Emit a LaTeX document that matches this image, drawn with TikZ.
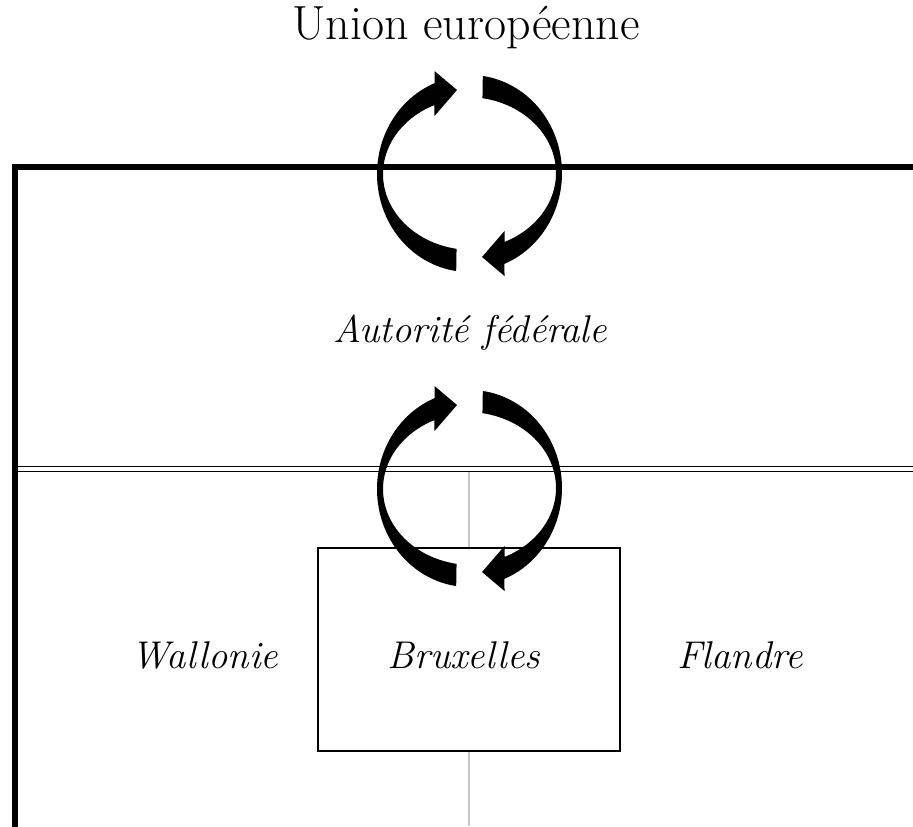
\documentclass[tikz,border=0pt]{standalone}
\usepackage{fontspec}
\begin{document}
\begin{tikzpicture}[x=0.75pt,y=-0.75pt,
  frameline/.style={line width=4.5pt,line join=miter},
  thinline/.style={line width=1pt},
  grayline/.style={draw=black!22,line width=1.1pt},
  boxstyle/.style={draw=black,line width=1.5pt,fill=white},
  bigtext/.style={anchor=base,inner sep=0pt,font=\fontsize{36}{42}\selectfont},
  itext/.style={anchor=base,inner sep=0pt,font=\fontsize{29}{35}\selectfont\itshape}]
\newcommand\halfcirc{%
  \fill plot[domain=98:248,samples=60] ({-0.5+92*cos(\x)},{0.5+98*sin(\x)})
    -- (-35,-102.5) -- (-12.5,-83.5) -- (-35,-57.5)
    -- plot[domain=245:100,samples=60] ({2.5+89*cos(\x)},{0.5+76*sin(\x)}) -- cycle;}
\useasboundingbox (0,0) rectangle (913,826);
% gray divider and Brussels box
\draw[grayline] (469,472) -- (469,826);
\node[boxstyle,minimum width=302*0.75pt,minimum height=203*0.75pt,inner sep=0pt] (box) at (469,649.5) {};
% frame
\draw[frameline] (14.5,830) -- (14.5,166.5) -- (913,166.5);
\draw[thinline] (17,466.8) -- (913,466.8);
\draw[thinline] (17,471.3) -- (913,471.3);
% circular arrows
\begin{scope}[shift={(469.5,173.5)}]
  \halfcirc
  \begin{scope}[rotate=180]\halfcirc\end{scope}
\end{scope}
\begin{scope}[shift={(469.5,488.5)}]
  \halfcirc
  \begin{scope}[rotate=180]\halfcirc\end{scope}
\end{scope}
% texts
\node[bigtext] (ue) at (466,39) {Union européenne};
\node[itext] (fed) at (470,342) {Autorité fédérale};
\node[itext] (wal) at (205,668) {Wallonie};
\node[itext] (bru) at (464,668) {Bruxelles};
\node[itext] (fla) at (740,668) {Flandre};
\end{tikzpicture}
\end{document}
